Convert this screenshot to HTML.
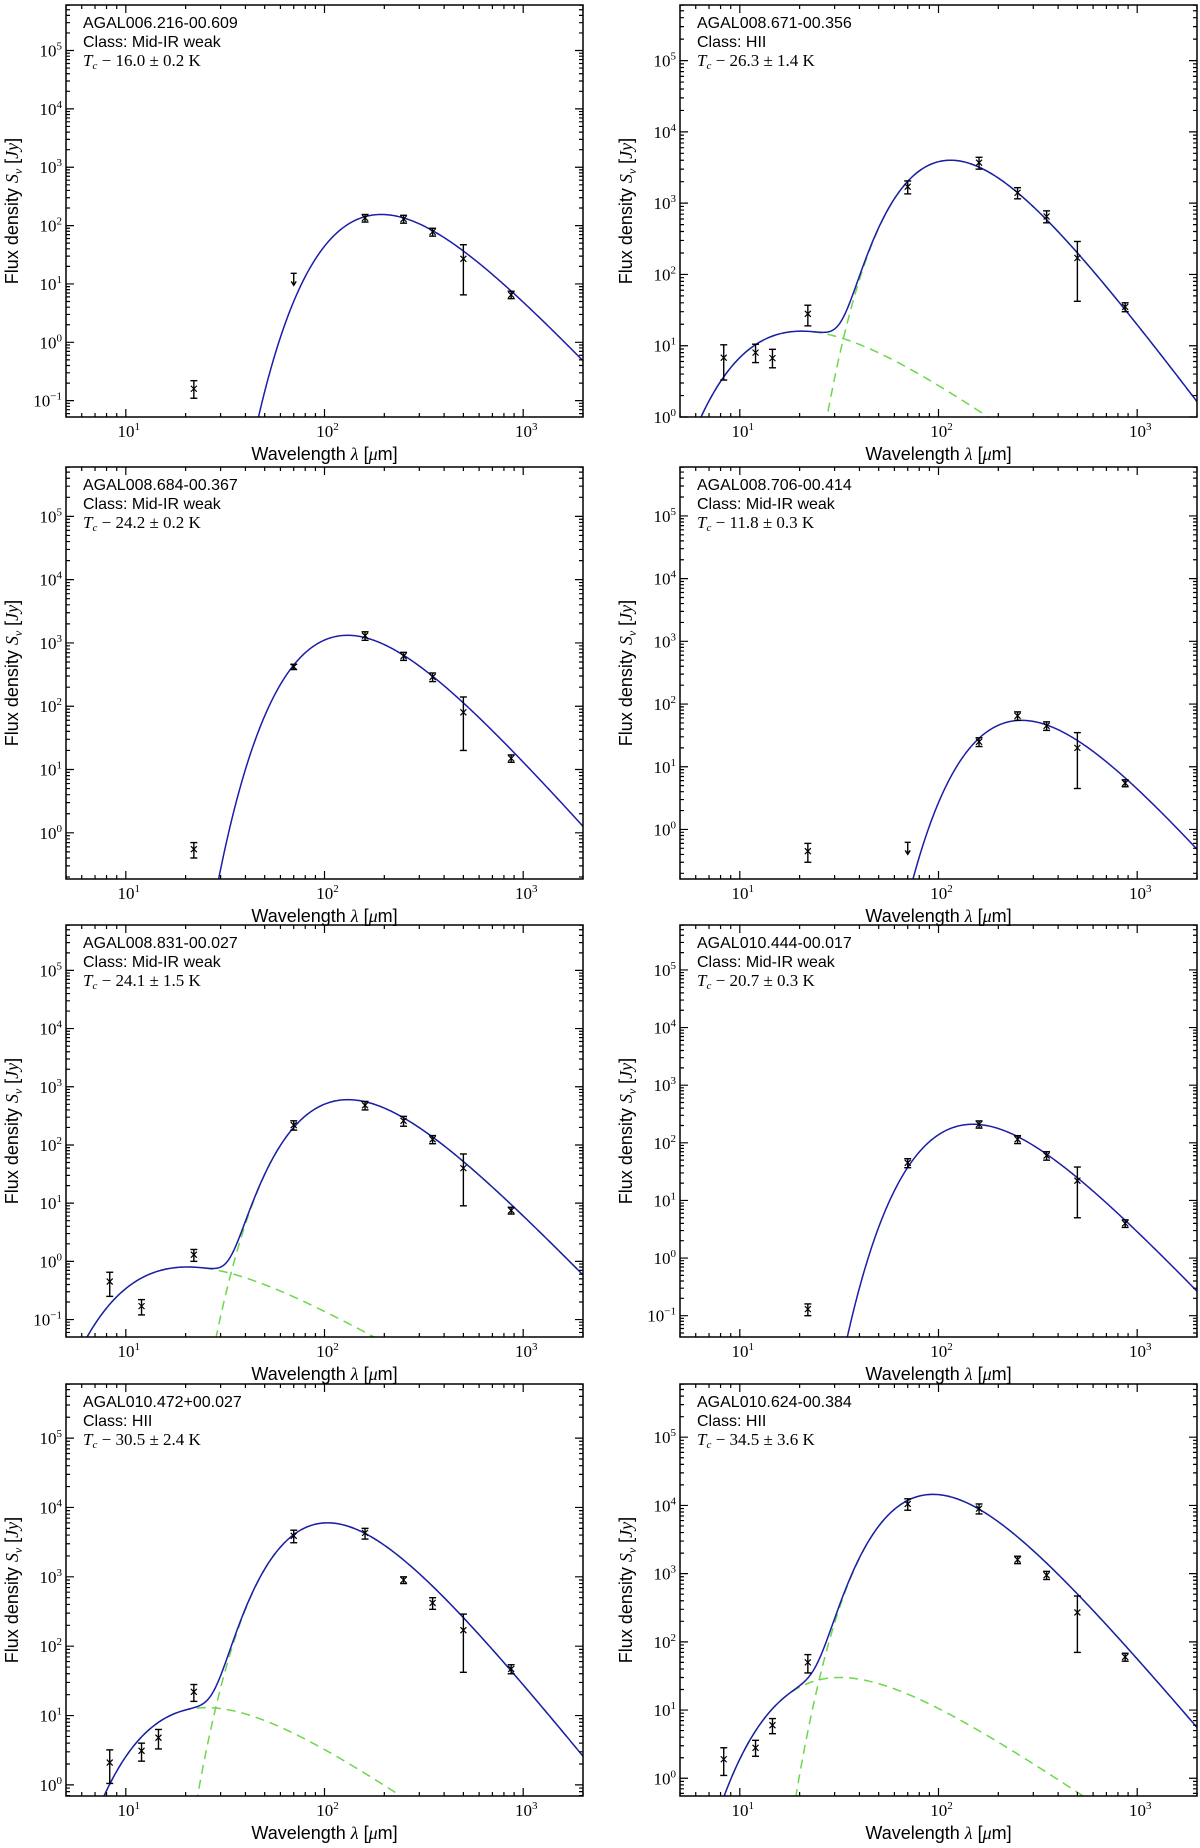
<!DOCTYPE html>
<html><head><meta charset="utf-8">
<style>
html,body{margin:0;padding:0;background:#fff;overflow:hidden;}
svg{display:block;}
</style></head>
<body>
<svg id="fig" width="1200" height="1848" viewBox="0 0 1200 1848" xmlns="http://www.w3.org/2000/svg"></svg>
<script>
// ---- data ----
const sourceNames = ["AGAL006.216-00.609","AGAL008.671-00.356","AGAL008.684-00.367","AGAL008.706-00.414","AGAL008.831-00.027","AGAL010.444-00.017","AGAL010.472+00.027","AGAL010.624-00.384"];
const sourceClasses = ["Mid-IR weak","HII","Mid-IR weak","Mid-IR weak","Mid-IR weak","Mid-IR weak","HII","HII"];
const tempLabels = ["16.0 \u00b1 0.2 K","26.3 \u00b1 1.4 K","24.2 \u00b1 0.2 K","11.8 \u00b1 0.3 K","24.1 \u00b1 1.5 K","20.7 \u00b1 0.3 K","30.5 \u00b1 2.4 K","34.5 \u00b1 3.6 K"];
const coldT = [16.0,26.3,24.2,11.8,24.1,20.7,30.5,34.5];
const coldBeta = [1.7,1.8,1.6,1.7,1.6,1.7,1.6,1.5];
const coldPeak = [155,4000,1320,55,600,210,6000,14500];
const hotT = [0,250,0,0,250,0,200,160];
const hotPeak = [0,16,0,0,0.8,0,13,30];
const yMinLog = [-1.28,0,-0.73,-0.79,-1.3,-1.37,-0.16,-0.26];
const yMaxLog = 5.78;
const xMin = 5, xMax = 2000;
const xTickLabels = ["10","10","10"];
const xTickExps = [1,2,3];
const yTickExps = [-1,0,1,2,3,4,5];
const ptsLam = [
 [22,70,160,250,350,500,870],
 [8.3,12,14.6,22,70,160,250,350,500,870],
 [22,70,160,250,350,500,870],
 [22,70,160,250,350,500,870],
 [8.3,12,22,70,160,250,350,500,870],
 [22,70,160,250,350,500,870],
 [8.3,12,14.6,22,70,160,250,350,500,870],
 [8.3,12,14.6,22,70,160,250,350,500,870]];
const ptsFlux = [
 [0.16,12,135,130,78,27,6.5],
 [6.8,8,6.7,28,1700,3700,1400,650,170,35],
 [0.55,420,1300,620,290,80,15],
 [0.45,0.5,25,65,45,20,5.5],
 [0.45,0.17,1.3,220,480,260,125,40,7.5],
 [0.13,45,210,115,60,22,4],
 [2.1,3.1,4.8,22,3900,4300,900,420,170,47],
 [1.9,2.8,6,50,10500,9000,1600,950,270,60]];
const ptsLo = [
 [0.11,10,115,110,66,6.5,5.6],
 [3.3,5.8,4.9,19,1350,3000,1150,530,42,30],
 [0.4,380,1100,530,245,20,13],
 [0.3,0.4,21,55,38,4.5,4.8],
 [0.25,0.12,1.0,180,400,210,105,9,6.5],
 [0.1,37,180,97,50,5,3.4],
 [1.05,2.2,3.3,16,3100,3500,800,340,42,40],
 [1.1,2.1,4.5,35,8500,7500,1400,820,70,52]];
const ptsHi = [
 [0.22,14,155,150,90,47,7.5],
 [10.3,10.5,8.9,37,2050,4400,1650,780,290,40],
 [0.7,460,1500,710,335,140,17],
 [0.6,0.6,29,75,52,35,6.2],
 [0.65,0.22,1.6,260,560,310,145,70,8.5],
 [0.16,53,240,133,70,38,4.6],
 [3.2,4.0,6.3,28,4700,5000,1000,500,290,54],
 [2.8,3.6,7.5,65,12500,10500,1800,1080,470,68]];
const ptsUL = [
 [0,1,0,0,0,0,0],[0,0,0,0,0,0,0,0,0,0],[0,0,0,0,0,0,0],[0,1,0,0,0,0,0],
 [0,0,0,0,0,0,0,0,0],[0,0,0,0,0,0,0],[0,0,0,0,0,0,0,0,0,0],[0,0,0,0,0,0,0,0,0,0]];

// ---- layout ----
const NS = "http://www.w3.org/2000/svg";
const svg = document.getElementById('fig');
const colX = [66, 680], plotW = 517, plotH = 412;
const rowTops = [5, 467, 925, 1384];
function mk(tag, attrs, parent){ const e=document.createElementNS(NS,tag); for(const k in attrs) e.setAttribute(k,attrs[k]); (parent||svg).appendChild(e); return e; }

function xpeakOf(b){ let x=3+b; for(let i=0;i<60;i++) x=(3+b)*(1-Math.exp(-x)); return x; }
function comp(lam,T,beta,peak){
  const f = x => Math.pow(x,3+beta)/Math.expm1(x);
  const x = 14388/(lam*T);
  return peak*f(x)/f(xpeakOf(beta));
}

for(let p=0;p<8;p++){
  const col=p%2, row=Math.floor(p/2);
  const X0=colX[col], Y0=rowTops[row], W=plotW, H=plotH;
  const lx0=Math.log10(xMin), lx1=Math.log10(xMax), ly0=yMinLog[p], ly1=yMaxLog;
  const sx = v => X0 + (Math.log10(v)-lx0)/(lx1-lx0)*W;
  const sy = v => Y0 + H - (Math.log10(v)-ly0)/(ly1-ly0)*H;
  const g = mk('g',{});
  
  
  const cp = mk('clipPath',{id:'clip'+p},g);
  mk('rect',{x:X0,y:Y0,width:W,height:H},cp);

  const N=500; let blue='', gc='', gh='';
  const cl = v => Math.max(-5000,Math.min(5000,v)).toFixed(2);
  for(let i=0;i<=N;i++){
    const lam = Math.pow(10, lx0+(lx1-lx0)*i/N);
    const c = comp(lam,coldT[p],coldBeta[p],coldPeak[p]);
    const h = hotT[p]? comp(lam,hotT[p],0,hotPeak[p]) : 0;
    const tot=c+h;
    const cmd = i?'L':'M';
    blue += cmd+sx(lam).toFixed(2)+','+cl(sy(Math.max(tot,1e-30)));
    gc += cmd+sx(lam).toFixed(2)+','+cl(sy(Math.max(c,1e-30)));
    if(h) gh += cmd+sx(lam).toFixed(2)+','+cl(sy(Math.max(h,1e-30)));
  }
  const cg = mk('g',{'clip-path':'url(#clip'+p+')'},g);
  if(hotT[p]){
    const d1=mk('path',{d:gc,fill:'none',stroke:'#6bd84a','stroke-width':1.5,'stroke-dasharray':'9,6'},cg);
    
    
    const d2=mk('path',{d:gh,fill:'none',stroke:'#6bd84a','stroke-width':1.5,'stroke-dasharray':'9,6'},cg);
    
    
  }
  const bl=mk('path',{d:blue,fill:'none',stroke:'#1c1caa','stroke-width':1.5},cg);
  
  

  for(let k=0;k<ptsLam[p].length;k++){
    const px=sx(ptsLam[p][k]), py=sy(ptsFlux[p][k]);
    const pg=mk('g',{stroke:'#000','stroke-width':1.4,fill:'none'},cg);
    
    
    if(ptsUL[p][k]){
      mk('line',{x1:px-3,y1:py-6,x2:px+3,y2:py-6},pg);
      mk('line',{x1:px,y1:py-6,x2:px,y2:py+5},pg);
      mk('path',{d:`M${px-2.5},${py+2}L${px},${py+6}L${px+2.5},${py+2}`},pg);
    } else {
      const ylo=sy(ptsLo[p][k]), yhi=sy(ptsHi[p][k]);
      mk('line',{x1:px,y1:ylo,x2:px,y2:yhi},pg);
      mk('line',{x1:px-3.5,y1:ylo,x2:px+3.5,y2:ylo},pg);
      mk('line',{x1:px-3.5,y1:yhi,x2:px+3.5,y2:yhi},pg);
      mk('path',{d:`M${px-3},${py-3}L${px+3},${py+3}M${px-3},${py+3}L${px+3},${py-3}`,'stroke-width':1.2},pg);
    }
  }

  const fr=mk('rect',{x:X0,y:Y0,width:W,height:H,fill:'none',stroke:'#000','stroke-width':1.5},g);
  
  
  let tk='';
  for(let e=0;e<=3;e++) for(let m=1;m<10;m++){
    const v=m*Math.pow(10,e); if(v<xMin||v>xMax) continue;
    const x=sx(v), L=(m===1)?8:4;
    tk+=`M${x},${Y0+H}v${-L}M${x},${Y0}v${L}`;
  }
  for(let e=-2;e<=6;e++) for(let m=1;m<10;m++){
    const lv=Math.log10(m)+e; if(lv<ly0||lv>ly1) continue;
    const y=sy(Math.pow(10,lv)), L=(m===1)?8:4;
    tk+=`M${X0},${y}h${L}M${X0+W},${y}h${-L}`;
  }
  mk('path',{d:tk,stroke:'#000','stroke-width':1.2,fill:'none'},g);

  for(let i=0;i<xTickExps.length;i++){
    const t=mk('text',{x:sx(Math.pow(10,xTickExps[i]))+3,y:Y0+H+20,'text-anchor':'middle','font-family':'"Liberation Serif",serif','font-size':17},g);
    
    
    t.textContent=xTickLabels[i];
    const s=mk('tspan',{dy:-7,'font-size':11},t); s.textContent=String(xTickExps[i]);
  }
  for(const e of yTickExps){
    if(e<ly0-0.01||e>ly1) continue;
    const t=mk('text',{x:X0-4,y:sy(Math.pow(10,e))+6,'text-anchor':'end','font-family':'"Liberation Serif",serif','font-size':17},g);
    
    
    t.textContent='10';
    const s=mk('tspan',{dy:-7,'font-size':11},t); s.textContent=(e<0?'\u22121':String(e));
  }
  const xl=mk('text',{x:X0+W/2,y:Y0+H+43,'text-anchor':'middle','font-family':'"Liberation Sans",sans-serif','font-size':18},g);
  
  
  xl.innerHTML='Wavelength <tspan font-family="Liberation Serif" font-style="italic">\u03bb</tspan> [<tspan font-family="Liberation Serif" font-style="italic">\u03bc</tspan>m]';
  const yl=mk('text',{x:0,y:0,'text-anchor':'middle','font-family':'"Liberation Sans",sans-serif','font-size':18,transform:`translate(${X0-48},${Y0+H/2}) rotate(-90)`},g);
  
  
  yl.innerHTML='Flux density <tspan font-family="Liberation Serif" font-style="italic">S</tspan><tspan font-family="Liberation Serif" font-style="italic" font-size="12" dy="4">\u03bd</tspan><tspan dy="-4"> [</tspan><tspan font-family="Liberation Serif" font-style="italic">Jy</tspan>]';
  const a1=mk('text',{x:X0+17,y:Y0+23,'font-family':'"Liberation Sans",sans-serif','font-size':16},g);
  
  
  a1.textContent=sourceNames[p];
  const a2=mk('text',{x:X0+17,y:Y0+42,'font-family':'"Liberation Sans",sans-serif','font-size':16},g);
  
  
  a2.textContent='Class: '+sourceClasses[p];
  const a3=mk('text',{x:X0+17,y:Y0+61,'font-family':'"Liberation Serif",serif','font-size':17},g);
  
  
  a3.innerHTML='<tspan font-style="italic">T</tspan><tspan font-style="italic" font-size="11" dy="3">c</tspan><tspan dy="-3"> \u2212 '+tempLabels[p]+'</tspan>';
}
</script>
</body></html>
